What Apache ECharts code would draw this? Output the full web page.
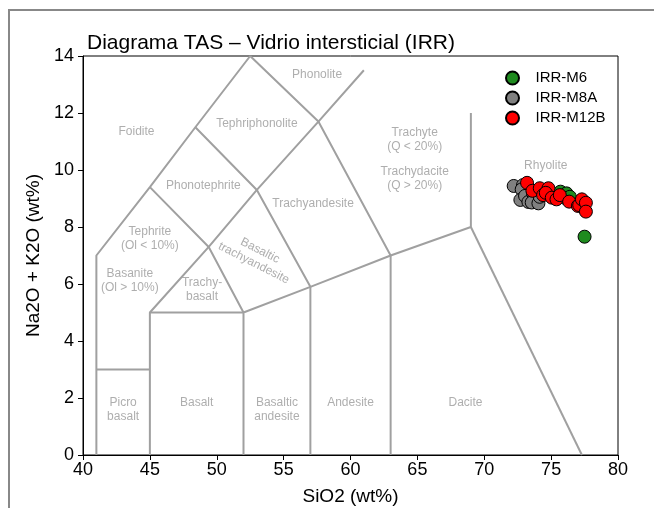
<!DOCTYPE html>
<html lang="en">
<head>
    <meta charset="UTF-8">
    <title>Diagrama TAS</title>
    <style>
        html, body { margin: 0; padding: 0; background: #fff; }
    </style>
    <script src="https://cdn.jsdelivr.net/npm/echarts@6/dist/echarts.min.js"></script>
</head>
<body>
    <div id="main" style="width:654px;height:508px"></div>
    <script>
        // muestras (SiO2, Na2O+K2O)
        var m6 = [[75.7, 9.24], [76.15, 9.18], [76.05, 9.02], [76.4, 9.06], [77.5, 7.66]];
        var m8a = [[72.2, 9.44], [72.9, 9.47], [72.8, 9.32], [72.7, 8.95], [73.05, 9.09],
                   [73.3, 8.88], [73.65, 9.18], [73.55, 8.86], [74.05, 8.83], [74.15, 9.06]];
        var m12b = [[73.2, 9.55], [73.6, 9.27], [74.15, 9.36], [74.4, 9.12], [74.8, 9.36],
                    [74.6, 9.2], [75.05, 9.03], [75.4, 8.97], [75.65, 9.12], [76.35, 8.89],
                    [77.0, 8.74], [77.1, 8.77], [77.3, 8.97], [77.6, 8.85], [77.6, 8.54]];
        var groupNames = ['IRR-M6', 'IRR-M8A', 'IRR-M12B'];
        var groupColors = ['#1f8b1f', '#808080', '#ff0000'];

        // limites del diagrama TAS (Le Bas et al. 1986)
        var tasLines = [
            [[41, 0], [41, 7], [45, 9.4], [48.4, 11.5], [52.5, 14]],
            [[52.5, 14], [57.6, 11.7], [63, 7]],
            [[41, 3], [45, 3]],
            [[45, 0], [45, 5], [49.4, 7.3], [53, 9.3], [57.6, 11.7], [61, 13.5]],
            [[45, 9.4], [49.4, 7.3], [52, 5]],
            [[48.4, 11.5], [53, 9.3], [57, 5.9]],
            [[45, 5], [52, 5]],
            [[52, 0], [52, 5], [57, 5.9], [63, 7], [69, 8]],
            [[57, 0], [57, 5.9]],
            [[63, 0], [63, 7]],
            [[69, 8], [69, 12]],
            [[69, 8], [77.3, 0]]
        ];
        var fieldNames = ['Foidite', 'Phonolite', 'Tephriphonolite', 'Phonotephrite', 'Trachyandesite',
                          'Tephrite\n(Ol < 10%)', 'Basaltic\ntrachyandesite', 'Basanite\n(Ol > 10%)',
                          'Trachy-\nbasalt', 'Picro\nbasalt', 'Basalt', 'Basaltic\nandesite',
                          'Andesite', 'Dacite', 'Rhyolite', 'Trachyte\n(Q < 20%)', 'Trachydacite\n(Q > 20%)'];
        var fieldPos = [[44.0, 11.35], [57.5, 13.33], [53.0, 11.64], [49.0, 9.44], [57.2, 8.83],
                        [45.0, 7.6], [53.0, 6.95], [43.5, 6.1],
                        [48.9, 5.8], [43.0, 1.6], [48.5, 1.84], [54.5, 1.6],
                        [60.0, 1.84], [68.6, 1.84], [74.6, 10.14], [64.8, 11.05], [64.8, 9.68]];
        var fieldRotate = [0, 0, 0, 0, 0, 0, -27, 0, 0, 0, 0, 0, 0, 0, 0, 0, 0];

        var main = document.getElementById('main');
        var myChart = echarts.init(main);

        var series = [];
        for (var i in tasLines) {
            series.push({
                type: 'line',
                data: tasLines[i],
                symbol: 'none',
                silent: true,
                lineStyle: { color: '#a0a0a0', width: 2 },
                z: 1
            });
        }
        var labelData = [];
        for (var j in fieldNames) {
            labelData.push({
                value: fieldPos[j],
                label: { formatter: fieldNames[j], rotate: fieldRotate[j] }
            });
        }
        series.push({
            type: 'scatter',
            data: labelData,
            symbolSize: 1,
            silent: true,
            itemStyle: { color: 'rgba(0,0,0,0)' },
            label: {
                show: true,
                position: 'inside',
                color: '#9a9a9a',
                fontSize: 12,
                lineHeight: 14,
                fontFamily: 'Liberation Sans'
            },
            z: 2
        });
        var groups = [m6, m8a, m12b];
        for (var k in groups) {
            series.push({
                name: groupNames[k],
                type: 'scatter',
                data: groups[k],
                symbol: 'circle',
                symbolSize: 13,
                itemStyle: { color: groupColors[k], borderColor: '#000', borderWidth: 1, opacity: 1 },
                z: 5
            });
        }

        var option = {
            animation: false,
            textStyle: { fontFamily: 'Liberation Sans' },
            title: {
                text: 'Diagrama TAS \u2013 Vidrio intersticial (IRR)',
                left: 82,
                top: 28,
                textStyle: { fontSize: 21, fontWeight: 'normal', color: '#000', fontFamily: 'Liberation Sans' }
            },
            graphic: [{
                type: 'rect',
                shape: { x: 9, y: 10, width: 700, height: 600 },
                style: { fill: 'none', stroke: '#888', lineWidth: 2 },
                silent: true
            }],
            legend: {
                data: groupNames,
                orient: 'vertical',
                left: 500,
                top: 64,
                itemWidth: 36,
                itemHeight: 13,
                itemGap: 2,
                icon: 'circle',
                textStyle: { fontSize: 15, color: '#000', lineHeight: 18 }
            },
            grid: {
                left: 83, right: 36, top: 56, bottom: 53,
                show: true, borderColor: '#000', borderWidth: 1,
                outerBoundsMode: 'none'
            },
            xAxis: {
                type: 'value', min: 40, max: 80, interval: 5,
                name: 'SiO2 (wt%)', nameLocation: 'middle', nameGap: 32,
                nameTextStyle: { fontSize: 19, color: '#000' },
                axisLine: { show: true, lineStyle: { color: '#000', width: 1 } },
                axisTick: { show: true, length: 5, lineStyle: { color: '#000' } },
                axisLabel: { fontSize: 18, color: '#000', margin: 6 },
                splitLine: { show: false }
            },
            yAxis: {
                type: 'value', min: 0, max: 14, interval: 2,
                name: 'Na2O + K2O (wt%)', nameLocation: 'middle', nameGap: 40,
                nameTextStyle: { fontSize: 19, color: '#000' },
                axisLine: { show: true, lineStyle: { color: '#000', width: 1 } },
                axisTick: { show: true, length: 5, lineStyle: { color: '#000' } },
                axisLabel: { fontSize: 18, color: '#000', margin: 9 },
                splitLine: { show: false }
            },
            series: series
        };
        myChart.setOption(option);
    </script>
</body>
</html>
